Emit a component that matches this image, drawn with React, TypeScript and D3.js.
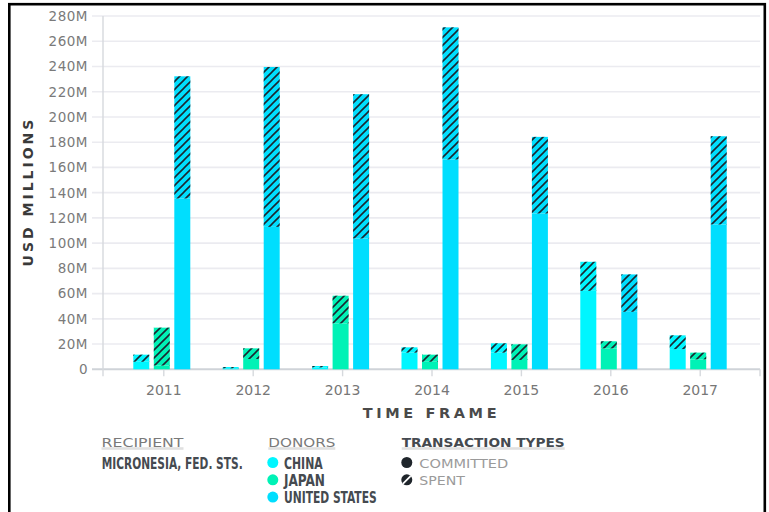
import React from 'react';
import * as d3 from 'd3';

// Years on the x axis and the three donors drawn in each year group
const years = ['2011', '2012', '2013', '2014', '2015', '2016', '2017'];
const donors = ['China', 'Japan', 'United States'];
const donorLabels = ['CHINA', 'JAPAN', 'UNITED STATES'];
const donorColors = ['#00f6ff', '#00f2b6', '#00defe'];

// USD millions per year: committed (solid lower segment) and spent (hatched upper segment)
const chinaCommitted = [6.0, 0.8, 1.5, 13.2, 13.2, 62.2, 16.0];
const chinaSpent = [5.6, 1.0, 1.1, 4.2, 7.4, 23.0, 10.9];
const japanCommitted = [3.0, 8.2, 36.4, 6.0, 7.4, 16.6, 7.9];
const japanSpent = [30.0, 8.4, 21.9, 5.6, 12.4, 5.6, 5.3];
const usCommitted = [135.4, 112.9, 103.7, 166.3, 123.5, 45.6, 114.8];
const usSpent = [96.8, 126.7, 114.3, 104.7, 60.7, 29.6, 69.9];

const yTicks = [0, 20, 40, 60, 80, 100, 120, 140, 160, 180, 200, 220, 240, 260, 280];

const W = 769;
const H = 512;
const plot = { left: 103, right: 761, top: 16, bottom: 369.3 };
const sans = "'DejaVu Sans', Verdana, sans-serif";
const narrow = "'Liberation Sans Narrow', 'DejaVu Sans Condensed', 'Roboto Condensed', sans-serif";

export default function App() {
  const x0 = d3.scaleBand<string>().domain(years).range([plot.left, plot.right]).paddingInner(0).paddingOuter(0.18);
  const x1 = d3.scaleBand<string>().domain(donors).range([-30.5, 26.5]).paddingInner(0.22);
  const y = d3.scaleLinear().domain([0, 280]).range([plot.bottom, plot.top]);

  const committed = [chinaCommitted, japanCommitted, usCommitted];
  const spent = [chinaSpent, japanSpent, usSpent];

  const center = (yr: string) => (x0(yr) as number) + x0.bandwidth() / 2;
  const fmt = (v: number) => (v === 0 ? '0' : `${v}M`);

  const bars: React.ReactNode[] = [];
  donors.forEach((d, di) => {
    years.forEach((yr, yi) => {
      const bx = center(yr) + (x1(d) as number);
      const bw = x1.bandwidth();
      const c = committed[di][yi];
      const s = spent[di][yi];
      const yc = y(c);
      const yt = y(c + s);
      bars.push(
        <g key={`${d}-${yr}`}>
          <rect x={bx} y={yc} width={bw} height={plot.bottom - yc} fill={donorColors[di]} />
          <rect x={bx} y={yt} width={bw} height={yc - yt} fill={donorColors[di]} />
          <rect x={bx} y={yt} width={bw} height={yc - yt} fill="url(#hatch)" />
        </g>
      );
    });
  });

  const legendY = 462.5;
  const legendStep = 17.3;

  return (
    <svg width={W} height={H} style={{ position: 'absolute', left: 0, top: 0, background: '#fff' }}>
      <defs>
        <pattern id="hatch" patternUnits="userSpaceOnUse" width="8" height="8">
          <path d="M-2,2 L2,-2 M0,8 L8,0 M6,10 L10,6" stroke="#1b2730" strokeWidth="1.6" />
        </pattern>
        <clipPath id="dotClip">
          <circle cx={0} cy={0} r={5.5} />
        </clipPath>
      </defs>

      {/* horizontal grid lines with their left tick stubs */}
      {yTicks.map((t) => (
        <g key={`g${t}`}>
          <line x1={92} x2={plot.right - 1} y1={y(t)} y2={y(t)} stroke={t === 0 ? '#cfd3d8' : '#ebebf0'} strokeWidth={t === 0 ? 2 : 1.6} />
          <text x={88} y={y(t)} dy="0.36em" textAnchor="end" fontFamily={sans} fontSize={13.5} letterSpacing={0.5} fill="#7a7a7a">
            {fmt(t)}
          </text>
        </g>
      ))}

      {/* y axis line */}
      <line x1={plot.left} x2={plot.left} y1={plot.top} y2={plot.bottom + 7} stroke="#d6d9dd" strokeWidth={1.4} />
      <line x1={plot.right - 1} x2={plot.right - 1} y1={plot.bottom} y2={plot.bottom + 7} stroke="#d6d9dd" strokeWidth={1.4} />

      {/* x ticks and labels */}
      {years.map((yr) => (
        <g key={`x${yr}`}>
          <line x1={center(yr)} x2={center(yr)} y1={plot.bottom} y2={plot.bottom + 7} stroke="#d6d9dd" strokeWidth={1.4} />
          <text x={center(yr)} y={395} textAnchor="middle" fontFamily={sans} fontSize={14} fill="#777">
            {yr}
          </text>
        </g>
      ))}

      {bars}

      {/* axis titles */}
      <text transform={`translate(32.5,191.5) rotate(-90)`} textAnchor="middle" fontFamily={sans} fontWeight="bold" fontSize={14} letterSpacing={3} fill="#3a3a3a">
        USD MILLIONS
      </text>
      <text x={431.5} y={418} textAnchor="middle" fontFamily={sans} fontWeight="bold" fontSize={14.5} letterSpacing={3.6} fill="#4a4a4a">
        TIME FRAME
      </text>

      {/* legend: recipient */}
      <rect x={101.5} y={447.2} width={82} height={2.6} fill="#e0e0e0" />
      <text x={101.5} y={446.5} fontFamily={sans} fontSize={13} textLength={82} lengthAdjust="spacingAndGlyphs" fill="#7a7a7a">
        RECIPIENT
      </text>
      <text x={101.7} y={469} fontFamily={narrow} fontWeight="bold" fontSize={15} textLength={141} lengthAdjust="spacingAndGlyphs" fill="#454a50">
        MICRONESIA, FED. STS.
      </text>

      {/* legend: donors */}
      <rect x={268.3} y={447.2} width={67} height={2.6} fill="#e0e0e0" />
      <text x={268.3} y={446.5} fontFamily={sans} fontSize={13} textLength={67} lengthAdjust="spacingAndGlyphs" fill="#7a7a7a">
        DONORS
      </text>
      {donors.map((d, i) => {
        const cy = legendY + i * legendStep;
        const widths = [38.7, 41, 92.7];
        return (
          <g key={`l${d}`}>
            <circle cx={272.8} cy={cy} r={5.5} fill={donorColors[i]} />
            <text x={284} y={cy + 6} fontFamily={narrow} fontWeight="bold" fontSize={15} textLength={widths[i]} lengthAdjust="spacingAndGlyphs" fill="#454a50">
              {donorLabels[i]}
            </text>
          </g>
        );
      })}

      {/* legend: transaction types */}
      <rect x={401.7} y={447.2} width={163} height={2.6} fill="#e0e0e0" />
      <text x={401.7} y={446.5} fontFamily={sans} fontWeight="bold" fontSize={13} textLength={163} lengthAdjust="spacingAndGlyphs" fill="#454a50">
        TRANSACTION TYPES
      </text>
      <circle cx={406.8} cy={legendY} r={5.5} fill="#1f252b" />
      <text x={419.3} y={legendY + 5} fontFamily={sans} fontSize={13} textLength={89} lengthAdjust="spacingAndGlyphs" fill="#9a9a9a">
        COMMITTED
      </text>
      <g transform={`translate(406.8,${legendY + legendStep})`}>
        <circle cx={0} cy={0} r={5.5} fill="#1f252b" />
        <line x1={-5} y1={5} x2={5} y2={-5} stroke="#fff" strokeWidth={1.8} clipPath="url(#dotClip)" />
      </g>
      <text x={419.3} y={legendY + legendStep + 5} fontFamily={sans} fontSize={13} textLength={45.7} lengthAdjust="spacingAndGlyphs" fill="#9a9a9a">
        SPENT
      </text>

      {/* outer frame */}
      <rect x={9.3} y={4.2} width={755.5} height={520} fill="none" stroke="#000" strokeWidth={2.6} />
    </svg>
  );
}
